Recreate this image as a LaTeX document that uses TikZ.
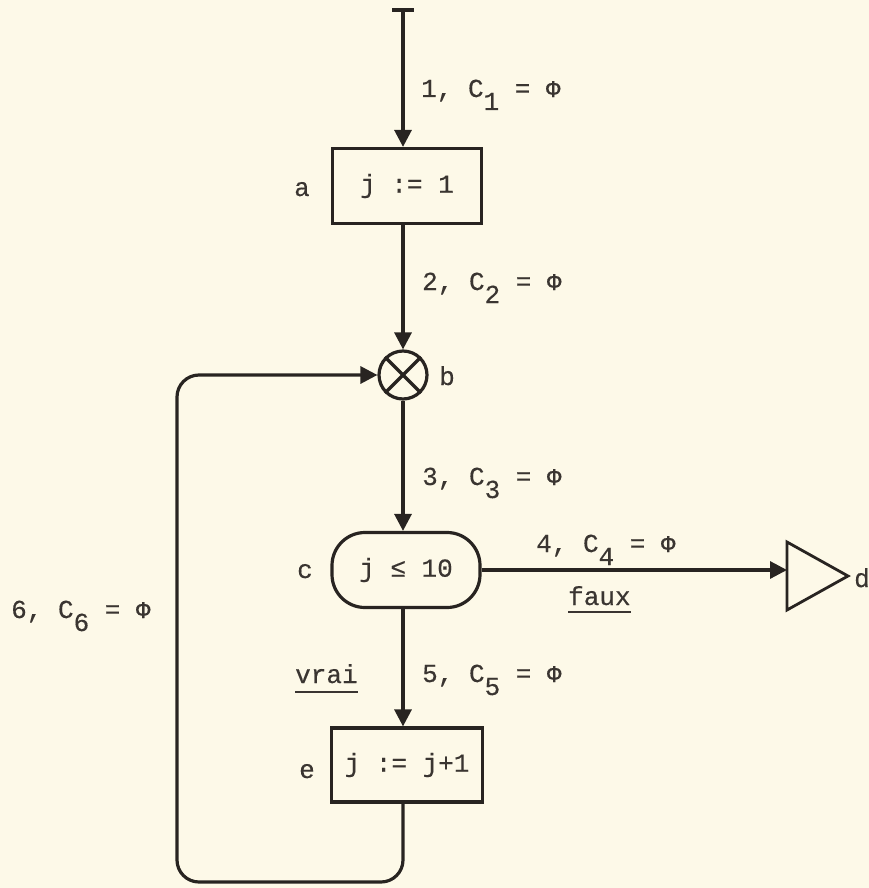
\documentclass[tikz,border=0pt]{standalone}
\usepackage{fontspec}
\setmainfont{Liberation Mono}[FakeBold=0.35]
\usetikzlibrary{arrows.meta}
\definecolor{paper}{RGB}{253,249,232}
\definecolor{ink}{RGB}{40,36,33}
\definecolor{txt}{RGB}{58,53,49}
\newcommand{\phic}{{\fontsize{24}{26}\selectfont Φ}}
\newcommand{\subsc}[1]{\raisebox{-13pt}{#1}}
\begin{document}
\begin{tikzpicture}[x=1pt,y=-1pt,
  flow/.style={line width=3.2pt, draw=ink, -{Triangle[length=17pt,width=17pt]}},
  box/.style={draw=ink, line width=3.2pt, minimum width=149pt, minimum height=75pt, inner sep=0pt, text=txt, font=\fontsize{26}{30}\selectfont},
  lbl/.style={text=txt, font=\fontsize{26}{30}\selectfont, inner sep=0pt, anchor=base west},
  tag/.style={text=txt, font=\fontsize{26}{30}\selectfont, inner sep=0pt, anchor=base},
  uline/.style={draw=txt, line width=2pt},
]
\fill[paper] (0,0) rectangle (869,888);
\useasboundingbox (0,0) rectangle (869,888);

% nodes
\coordinate (start) at (403,10);
\node[box] (a) at (407,186) {j := 1};
\node[draw=ink, line width=3.2pt, circle, minimum size=48pt, inner sep=0pt] (b) at (403,375) {};
\node[box, minimum width=148pt, rounded corners=33pt] (c) at (406,570) {j ≤ 10};
\node[box, minimum width=151pt, minimum height=74pt] (e) at (407,765) {j := j+1};
\coordinate (dl) at (c.east -| 787,0);
\draw[ink, line width=2.8pt, line join=miter] (787,542) -- (848,576) -- (787,610) -- cycle;
\coordinate (bl) at (177,882);

% cross in b
\draw[ink, line width=3.2pt] (b.north east) -- (b.south west);
\draw[ink, line width=3.2pt] (b.north west) -- (b.south east);

% start bar
\draw[ink, line width=3.4pt] ([xshift=-11pt]start) -- ([xshift=11pt]start);

% connectors
\draw[flow] (start) -- (start |- a.north);
\draw[flow] (a.south -| start) -- (b.north);
\draw[flow] (b.south) -- (b.south |- c.north);
\draw[flow] (c.east) -- (dl);
\draw[flow] (c.south -| start) -- (start |- e.north);
\draw[flow, rounded corners=22pt] (e.south -| start) |- (bl) |- (b.west);

% node letters
\node[tag] (la) at (302,196) {a};
\node[tag] (lb) at (447,385) {b};
\node[tag] (lc) at (305,578) {c};
\node[tag] (ld) at (862,587) {d};
\node[tag] (le) at (307,778) {e};

% connector labels
\node[lbl] (l1) at (421,97) {1, C\subsc{1} = \phic};
\node[lbl] (l2) at (422,290) {2, C\subsc{2} = \phic};
\node[lbl] (l3) at (422,485) {3, C\subsc{3} = \phic};
\node[lbl] (l4) at (536,552) {4, C\subsc{4} = \phic};
\node[lbl] (l5) at (422,682) {5, C\subsc{5} = \phic};
\node[lbl] (l6) at (11,618) {6, C\subsc{6} = \phic};

\node[lbl] (fx) at (568,605) {faux};
\draw[uline] ([yshift=-7pt]fx.base west) -- ([yshift=-7pt]fx.base east);
\node[lbl] (vr) at (295,683) {vrai};
\draw[uline] ([yshift=-9pt]vr.base west) -- ([yshift=-9pt]vr.base east);
\end{tikzpicture}
\end{document}
